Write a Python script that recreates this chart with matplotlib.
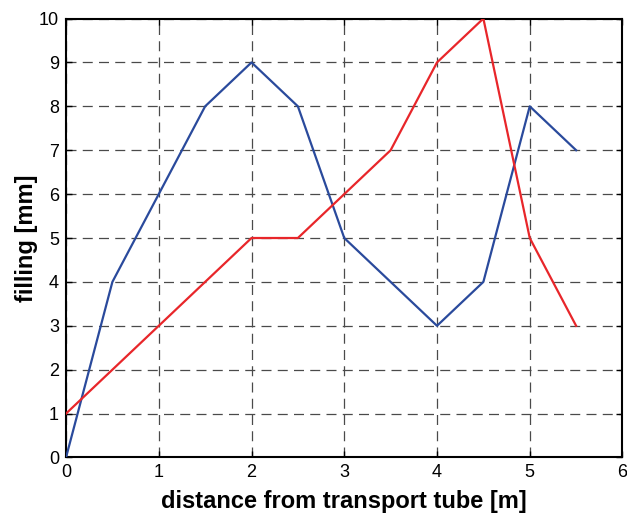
import matplotlib
matplotlib.use("Agg")
import matplotlib.pyplot as plt

# data
x = [0, 0.5, 1, 1.5, 2, 2.5, 3, 3.5, 4, 4.5, 5, 5.5]
blue = [0, 4, 6, 8, 9, 8, 5, 4, 3, 4, 8, 7]
red = [1, 2, 3, 4, 5, 5, 6, 7, 9, 10, 5, 3]

plt.rcParams['font.family'] = ['Liberation Sans', 'DejaVu Sans']

fig = plt.figure(figsize=(6.27, 5.15), dpi=100)
ax = fig.add_axes([0.1053, 0.1117, 0.8875, 0.8523])

ax.plot(x, blue, color="#2a4a9c", lw=1.6, zorder=3)
ax.plot(x, red, color="#e8262a", lw=1.6, zorder=3)

ax.set_xlim(0, 6)
ax.set_ylim(0, 10)
ax.set_xticks(range(0, 7))
ax.set_yticks(range(0, 11))
ax.grid(True, color="#4a4a4a", linestyle=(0, (8, 5)), lw=0.9)
ax.tick_params(direction="in", length=4, width=1, labelsize=13, top=True, right=True, pad=5)
for s in ax.spines.values():
    s.set_linewidth(1.5)

ax.set_xlabel("distance from transport tube [m]", fontsize=17, fontweight="bold", labelpad=6)
ax.set_ylabel("filling [mm]", fontsize=17, fontweight="bold", labelpad=1)

fig.savefig("out.png", dpi=100)
